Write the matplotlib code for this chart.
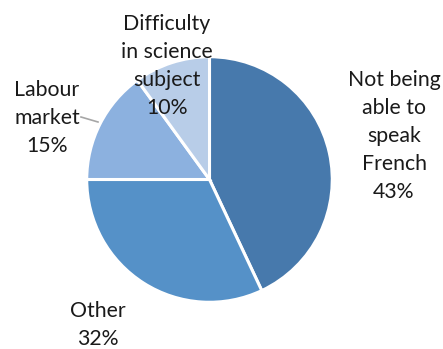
import matplotlib
matplotlib.use('Agg')
import matplotlib.pyplot as plt

# Données du graphique
labels = ['Not being\nable to\nspeak\nFrench', 'Other', 'Labour\nmarket', 'Difficulty\nin science\nsubject']
values = [43, 32, 15, 10]
colors = ['#4779AC', '#5591C8', '#8CB1DF', '#B8CDE8']

# Position des étiquettes (en pixels, centre du bloc de texte)
label_pos = [(394, 136), (98, 325), (47, 118), (167, 66)]

W, H = 443, 349
plt.rcParams['font.family'] = ['Lato', 'DejaVu Sans']

fig = plt.figure(figsize=(W / 100, H / 100), dpi=100)
ax = fig.add_axes([85.5 / W, (H - 303.5) / H, 248 / W, 248 / H])

ax.pie(values, colors=colors, startangle=90, counterclock=False,
       wedgeprops=dict(edgecolor='white', linewidth=2.2))
ax.set_xlim(-1.01, 1.01)
ax.set_ylim(-1.01, 1.01)
ax.set_aspect('auto')
ax.axis('off')

for lab, v, (x, y) in zip(labels, values, label_pos):
    fig.text(x / W, 1 - y / H, f'{lab}\n{v}%', ha='center', va='center',
             fontsize=15.3, linespacing=1.5, color='#1a1a1a')

# Ligne de rappel pour "Labour market"
fig.add_artist(plt.Line2D([81 / W, 98 / W], [1 - 117 / H, 1 - 122 / H],
                          color='#a6a6a6', linewidth=1.2))

fig.savefig('out.png', dpi=100)
